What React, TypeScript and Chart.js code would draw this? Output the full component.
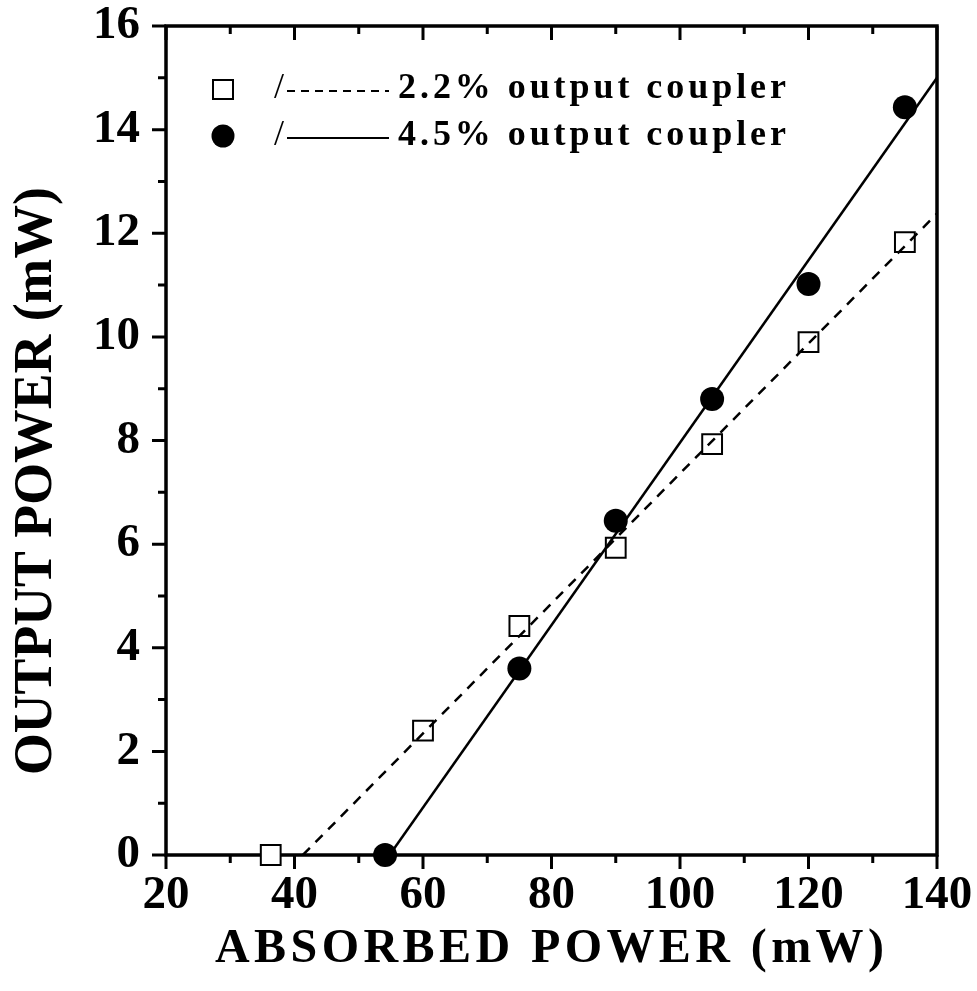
import React, { useEffect, useRef } from "react";
import { Chart, registerables } from "chart.js";

Chart.register(...registerables);

// ---- data ----
const absorbed22 = [36.3, 60, 75, 90, 105, 120, 135];
const output22 = [0, 2.4, 4.42, 5.93, 7.93, 9.9, 11.83];
const absorbed45 = [54.1, 75, 90, 105, 120, 135];
const output45 = [0, 3.6, 6.45, 8.8, 11.02, 14.43];
const fit22X = [41.3, 140];
const fit22Y = [0, 12.38];
const fit45X = [54.8, 140];
const fit45Y = [0, 15.0];

const xLabelTicks = [20, 40, 60, 80, 100, 120, 140];
const xAllTicks = [20, 30, 40, 50, 60, 70, 80, 90, 100, 110, 120, 130, 140];
const yLabelTicks = [0, 2, 4, 6, 8, 10, 12, 14, 16];
const yAllTicks = [0, 1, 2, 3, 4, 5, 6, 7, 8, 9, 10, 11, 12, 13, 14, 15, 16];

const legendLabels = ["2.2% output coupler", "4.5% output coupler"];
const xTitle = "ABSORBED POWER (mW)";
const yTitle = "OUTPUT POWER (mW)";

const SERIF = "'Liberation Serif', 'Times New Roman', serif";

const framePlugin = {
  id: "framePlugin",
  beforeDatasetsDraw(chart: any) {
    const { ctx, chartArea: a, scales } = chart;
    const x = scales.x;
    const y = scales.y;
    ctx.save();
    ctx.strokeStyle = "#000";
    ctx.lineCap = "butt";
    ctx.lineWidth = 3.5;
    ctx.strokeRect(a.left, a.top, a.right - a.left, a.bottom - a.top);
    ctx.lineWidth = 3;
    ctx.beginPath();
    for (const v of xAllTicks) {
      const px = x.getPixelForValue(v);
      const L = v % 20 === 0 ? 14 : 8;
      ctx.moveTo(px, a.bottom);
      ctx.lineTo(px, a.bottom + L);
      ctx.moveTo(px, a.top);
      ctx.lineTo(px, a.top + L);
    }
    for (const v of yAllTicks) {
      const py = y.getPixelForValue(v);
      const L = v % 2 === 0 ? 14 : 8;
      ctx.moveTo(a.left - L, py);
      ctx.lineTo(a.left, py);
    }
    ctx.stroke();
    ctx.restore();
  },
  afterDraw(chart: any) {
    const { ctx, chartArea: a } = chart;
    ctx.save();
    ctx.fillStyle = "#000";
    ctx.strokeStyle = "#000";

    // ---- legend ----
    const rows = [a.top + 64, a.top + 111];
    const markerX = a.left + 57;
    ctx.lineWidth = 2;
    ctx.fillStyle = "#fff";
    ctx.fillRect(markerX - 10, rows[0] - 10, 20, 19);
    ctx.fillStyle = "#000";
    ctx.strokeRect(markerX - 10, rows[0] - 10, 20, 19);
    ctx.beginPath();
    ctx.arc(markerX, rows[1] - 1, 11.5, 0, Math.PI * 2);
    ctx.fill();

    ctx.textBaseline = "alphabetic";
    ctx.textAlign = "left";
    ctx.font = `normal 36px ${SERIF}`;
    ctx.fillText("/", a.left + 108, rows[0] + 8);
    ctx.fillText("/", a.left + 108, rows[1] + 8);

    ctx.lineWidth = 2;
    ctx.beginPath();
    ctx.setLineDash([8, 6]);
    ctx.moveTo(a.left + 121, rows[0] + 1);
    ctx.lineTo(a.left + 223, rows[0] + 1);
    ctx.stroke();
    ctx.setLineDash([]);
    ctx.beginPath();
    ctx.moveTo(a.left + 121, rows[1] + 1);
    ctx.lineTo(a.left + 223, rows[1] + 1);
    ctx.stroke();

    ctx.font = `bold 36px ${SERIF}`;
    const lStart = a.left + 232;
    const lEnd = 786;
    for (let i = 0; i < legendLabels.length; i++) {
      const t = legendLabels[i];
      (ctx as any).letterSpacing = "0px";
      const nat = ctx.measureText(t).width;
      const lsp = Math.max(0, (lEnd - lStart - nat) / (t.length - 1));
      (ctx as any).letterSpacing = `${lsp}px`;
      ctx.fillText(t, lStart, rows[i] + 8);
    }
    (ctx as any).letterSpacing = "0px";

    // ---- x title ----
    ctx.font = `bold 48px ${SERIF}`;
    const xStart = 215;
    const xEnd = 884;
    const natural = ctx.measureText(xTitle).width;
    const ls = (xEnd - xStart - natural) / (xTitle.length - 1);
    (ctx as any).letterSpacing = `${ls}px`;
    ctx.fillText(xTitle, xStart, 962);
    (ctx as any).letterSpacing = "0px";

    // ---- y title ----
    ctx.font = `bold 55px ${SERIF}`;
    const yLen = 775 - 187;
    const yNat = ctx.measureText(yTitle).width;
    ctx.translate(51, 775);
    ctx.rotate(-Math.PI / 2);
    ctx.scale(yLen / yNat, 1);
    ctx.fillText(yTitle, 0, 0);
    ctx.restore();
  },
};

export default function App() {
  const ref = useRef<HTMLCanvasElement | null>(null);

  useEffect(() => {
    document.body.style.margin = "0";
    const canvas = ref.current;
    if (!canvas) return;
    const tickFont = { family: SERIF, size: 47, weight: "bold" as const };
    const chart = new Chart(canvas, {
      type: "scatter",
      data: {
        datasets: [
          {
            label: "fit 4.5%",
            data: fit45X.map((v, i) => ({ x: v, y: fit45Y[i] })),
            showLine: true,
            borderColor: "#000",
            borderWidth: 2.5,
            pointRadius: 0,
            fill: false,
          },
          {
            label: "fit 2.2%",
            data: fit22X.map((v, i) => ({ x: v, y: fit22Y[i] })),
            showLine: true,
            borderColor: "#000",
            borderWidth: 2.5,
            borderDash: [10, 8],
            pointRadius: 0,
            fill: false,
          },
          {
            label: "4.5% output coupler",
            data: absorbed45.map((v, i) => ({ x: v, y: output45[i] })),
            pointStyle: "circle",
            pointRadius: 12,
            backgroundColor: "#000",
            borderColor: "#000",
            borderWidth: 0,
            clip: false as any,
          },
          {
            label: "2.2% output coupler",
            data: absorbed22.map((v, i) => ({ x: v, y: output22[i] })),
            pointStyle: "rect",
            pointRadius: 14,
            backgroundColor: "#fff",
            borderColor: "#000",
            borderWidth: 2,
            clip: false as any,
          },
        ],
      },
      options: {
        animation: false,
        responsive: false,
        maintainAspectRatio: false,
        layout: { padding: { top: 26, right: 40, left: 0, bottom: 0 } },
        plugins: {
          legend: { display: false },
          tooltip: { enabled: false },
        },
        scales: {
          x: {
            type: "linear",
            min: 20,
            max: 140,
            afterBuildTicks: (s: any) => {
              s.ticks = xLabelTicks.map((v) => ({ value: v }));
            },
            afterFit: (s: any) => {
              s.height = 136;
              s.paddingLeft = 0;
              s.paddingRight = 0;
            },
            grid: { display: false, drawTicks: false },
            border: { display: false },
            ticks: {
              font: tickFont,
              color: "#000",
              padding: 13,
              maxRotation: 0,
              autoSkip: false,
            },
          },
          y: {
            type: "linear",
            min: 0,
            max: 16,
            afterBuildTicks: (s: any) => {
              s.ticks = yLabelTicks.map((v) => ({ value: v }));
            },
            afterFit: (s: any) => {
              s.width = 166;
              s.paddingTop = 0;
              s.paddingBottom = 0;
            },
            grid: { display: false, drawTicks: false },
            border: { display: false },
            ticks: {
              font: tickFont,
              color: "#000",
              padding: 26,
              autoSkip: false,
            },
          },
        },
      },
      plugins: [framePlugin],
    });
    return () => chart.destroy();
  }, []);

  return (
    <div style={{ width: 977, height: 991, background: "#fff" }}>
      <canvas ref={ref} width={977} height={991} style={{ display: "block" }} />
    </div>
  );
}
